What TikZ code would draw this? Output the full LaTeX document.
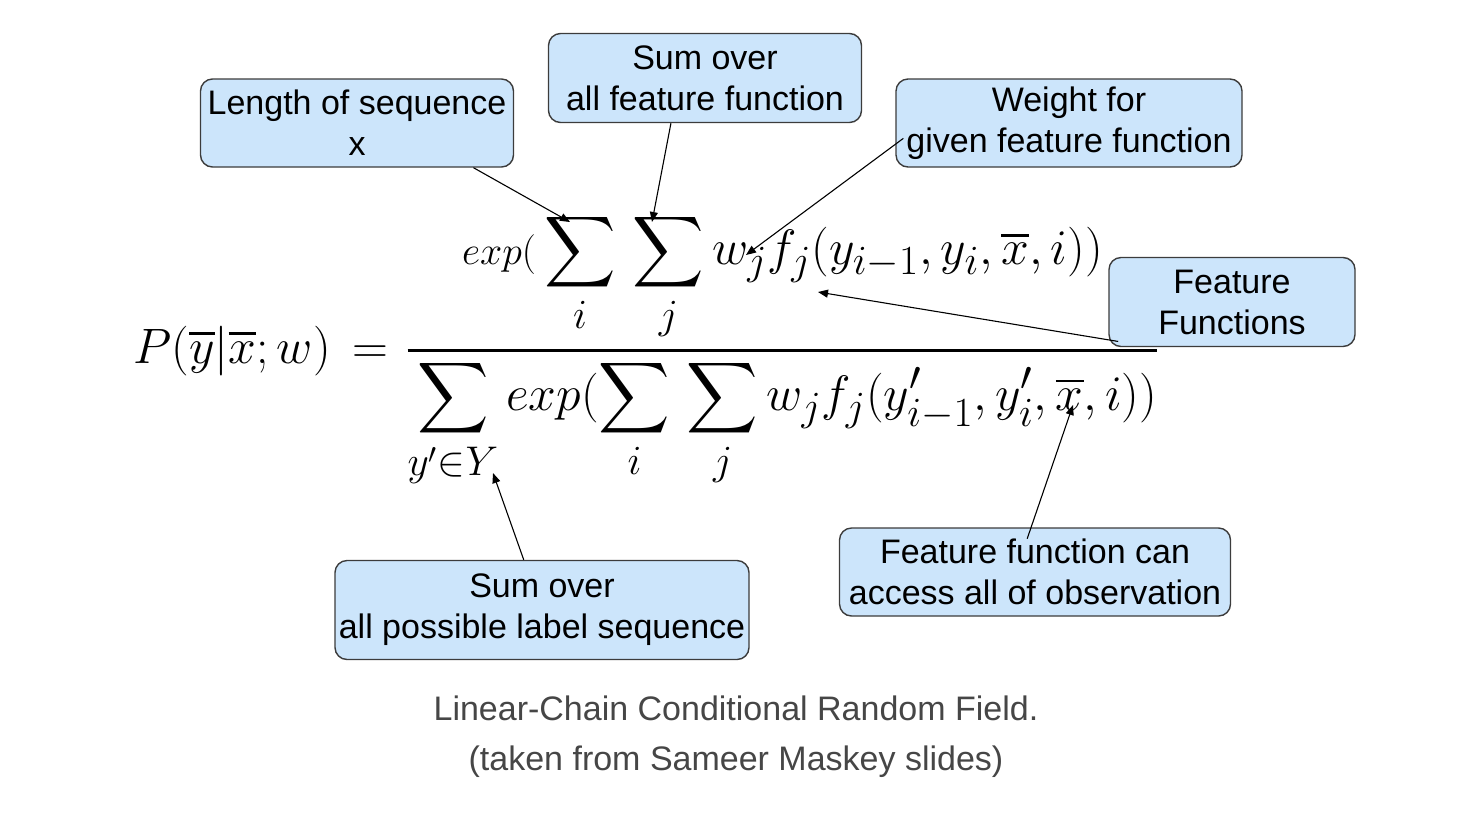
\documentclass[tikz,border=0pt]{standalone}
\usepackage{amsmath}
\usepackage{amssymb}
\usepackage{fontspec}
\setmainfont{Liberation Sans}
\usepackage{tikz}
\usetikzlibrary{arrows.meta}
\definecolor{boxblue}{RGB}{204,229,251}
\definecolor{boxline}{RGB}{60,60,60}
\definecolor{capgray}{RGB}{70,70,70}
\newcommand{\bsum}{\mathop{\vcenter{\hbox{\scalebox{0.87}{$\displaystyle\sum$}}}}\limits}
\tikzstyle{note}=[draw=boxline, fill=boxblue, line width=0.7pt, rounded corners=6pt, align=center, inner sep=0pt, font=\fontsize{17}{20.5}\selectfont]
\tikzstyle{pointer}=[line width=0.55pt, -{Triangle[length=5pt, width=4pt]}]
\tikzstyle{eqn}=[inner sep=0pt, font=\fontsize{28.5}{34}\selectfont]

\begin{document}
\begin{tikzpicture}[x=0.5pt, y=-0.5pt]
        \useasboundingbox (0, 0) rectangle (1476, 820);
        \node[eqn, anchor=base west] (Eq) at (133, 363) {$P(\overline{y}|\overline{x};w)\mkern3mu = \mkern1mu\dfrac{\scalebox{0.8}{$exp($}\displaystyle\bsum_i\,\bsum_j w_j f_j(y_{i-1},y_i,\overline{x},i))}{\displaystyle\bsum_{y'\in Y} exp(\bsum_i\,\bsum_j w_j f_j(y'_{i-1},y'_i,\overline{x},i))}$};
        \coordinate (SumI) at (570, 222);
        \coordinate (SumJ) at (652, 222);
        \coordinate (Wj) at (746, 255);
        \coordinate (Fj) at (818, 292);
        \coordinate (SetY) at (493, 473);
        \coordinate (Xbar) at (1073, 405);
        \node[note, minimum width=156.5pt, minimum height=44pt] (Len) at (357, 123) {Length of sequence\\x};
        \node[note, minimum width=156.5pt, minimum height=44.5pt] (SumF) at (705, 78) {Sum over\\all feature function};
        \node[note, minimum width=173pt, minimum height=44pt] (Wt) at (1069, 123) {Weight for\\given feature function};
        \node[note, minimum width=123pt, minimum height=44.5pt] (FF) at (1232, 302) {Feature\\Functions};
        \node[note, minimum width=207pt, minimum height=49.5pt] (SumL) at (542, 610) {Sum over\\all possible label sequence};
        \node[note, minimum width=195.5pt, minimum height=44pt] (Acc) at (1035, 572) {Feature function can\\access all of observation};
        \draw[pointer] (Len.-21) -- (SumI);
        \draw[pointer] (SumF.-127) -- (SumJ);
        \draw[pointer, shorten <=-5pt] (Wt.-173) -- (Wj);
        \draw[pointer, shorten <=-5pt] (FF.-163) -- (Fj);
        \draw[pointer] (SumL.110) -- (SetY);
        \draw[pointer, shorten <=-6pt] (Acc.95) -- (Xbar);
        \node[align=center, text=capgray, font=\fontsize{17}{25}\selectfont] (Cap) at (736, 737) {Linear-Chain Conditional Random Field.\\(taken from Sameer Maskey slides)};
    \end{tikzpicture}
\end{document}
